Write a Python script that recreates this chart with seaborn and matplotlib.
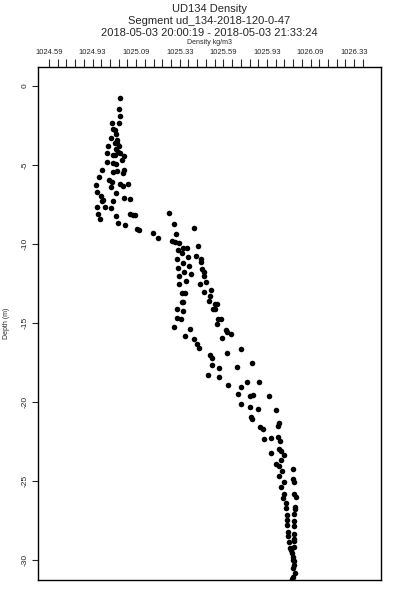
import numpy as np
import pandas as pd
import matplotlib
matplotlib.use("Agg")
import matplotlib.pyplot as plt
import seaborn as sns

# values
density = [
    1024.997, 1024.993, 1024.997, 1024.993, 1024.950, 1024.959, 1024.968, 1024.974, 1024.944, 1024.978,
    1024.982, 1024.968, 1024.930, 1024.993, 1024.974, 1024.987, 1024.921, 1024.959, 1024.968, 1024.997,
    1025.020, 1025.007, 1024.921, 1024.959, 1024.974, 1024.892, 1025.020, 1024.955, 1024.978, 1025.013,
    1024.878, 1024.936, 1024.950, 1024.997, 1025.013, 1025.041, 1024.860, 1024.944, 1024.864, 1024.974,
    1024.886, 1024.901, 1024.892, 1025.020, 1025.054, 1024.959, 1024.864, 1024.911, 1024.944, 1024.873,
    1024.974, 1025.054, 1025.073, 1025.083, 1024.882, 1024.987, 1025.026, 1025.096, 1025.108, 1025.185,
    1025.217, 1025.280, 1025.308, 1025.423, 1025.320, 1025.295, 1025.315, 1025.334, 1025.360, 1025.380,
    1025.442, 1025.330, 1025.351, 1025.385, 1025.433, 1025.460, 1025.460, 1025.326, 1025.360, 1025.394,
    1025.331, 1025.470, 1025.366, 1025.407, 1025.337, 1025.480, 1025.479, 1025.373, 1025.456, 1025.492,
    1025.334, 1025.479, 1025.519, 1025.352, 1025.370, 1025.513, 1025.351, 1025.360, 1025.510, 1025.542,
    1025.553, 1025.528, 1025.544, 1025.326, 1025.360, 1025.322, 1025.345, 1025.561, 1025.576, 1025.556,
    1025.309, 1025.399, 1025.604, 1025.609, 1025.634, 1025.369, 1025.423, 1025.580, 1025.437, 1025.449,
    1025.689, 1025.609, 1025.513, 1025.523, 1025.523, 1025.756, 1025.566, 1025.670, 1025.503, 1025.565,
    1025.728, 1025.796, 1025.614, 1025.693, 1025.676, 1025.745, 1025.758, 1025.853, 1025.691, 1025.743,
    1025.787, 1025.892, 1025.748, 1025.752, 1025.909, 1025.905, 1025.800, 1025.815, 1025.823, 1025.861,
    1025.901, 1025.915, 1025.909, 1025.920, 1025.939, 1025.863, 1025.919, 1025.892, 1025.909, 1025.928,
    1025.991, 1025.911, 1025.987, 1025.995, 1025.938, 1025.920, 1025.939, 1025.997, 1026.005, 1025.934,
    1025.947, 1025.947, 1026.001, 1026.001, 1025.953, 1025.995, 1025.956, 1025.956, 1025.995, 1025.997,
    1025.960, 1025.962, 1025.995, 1025.997, 1025.966, 1025.995, 1025.995, 1025.972, 1025.976, 1025.982,
    1025.987, 1025.987, 1025.997, 1025.997, 1025.991, 1026.001, 1025.991, 1025.982,
]
depth = [
    -0.78, -1.46, -1.90, -2.36, -2.32, -2.72, -2.78, -3.04, -3.29, -3.42,
    -3.59, -3.63, -3.80, -3.80, -4.01, -4.16, -4.24, -4.37, -4.37, -4.26,
    -4.43, -4.68, -4.79, -4.89, -4.94, -5.32, -5.32, -5.42, -5.38, -5.49,
    -5.78, -5.95, -6.06, -6.20, -6.33, -6.20, -6.27, -6.41, -6.69, -6.79,
    -6.96, -7.22, -7.26, -7.11, -7.15, -7.26, -7.68, -7.64, -7.74, -8.10,
    -8.23, -8.12, -8.15, -8.15, -8.44, -8.65, -8.80, -9.07, -9.11, -9.28,
    -9.65, -8.04, -8.73, -8.97, -9.37, -9.81, -9.89, -9.96, -10.23, -10.28,
    -10.11, -10.38, -10.60, -10.84, -10.74, -10.96, -11.12, -10.95, -11.20, -11.39,
    -11.49, -11.58, -11.75, -11.93, -12.01, -11.80, -12.03, -12.32, -12.52, -12.42,
    -12.55, -13.04, -12.91, -13.08, -13.08, -13.29, -13.65, -13.65, -13.59, -13.83,
    -13.83, -14.13, -14.13, -14.13, -14.24, -14.70, -14.78, -14.76, -14.76, -15.08,
    -15.23, -15.38, -15.44, -15.60, -15.72, -15.82, -16.00, -15.97, -16.36, -16.60,
    -16.66, -16.88, -17.03, -17.23, -17.67, -17.51, -17.87, -17.77, -18.30, -18.44,
    -18.71, -18.71, -18.92, -19.05, -19.51, -19.62, -19.56, -19.62, -20.14, -20.32,
    -20.43, -20.54, -20.97, -21.06, -21.35, -21.50, -21.60, -21.73, -22.34, -22.30,
    -22.23, -22.47, -22.97, -23.10, -23.35, -23.25, -23.67, -23.94, -24.03, -24.35,
    -24.24, -24.66, -24.89, -25.04, -25.04, -25.40, -25.82, -25.82, -26.03, -26.09,
    -26.41, -26.73, -26.66, -26.77, -27.15, -27.09, -27.47, -27.78, -27.55, -27.83,
    -28.21, -28.48, -28.37, -28.65, -28.88, -28.82, -29.16, -29.24, -29.37, -29.58,
    -29.79, -30.00, -30.04, -30.32, -30.53, -30.84, -31.06, -31.20,
]
x_ticks = [1024.59, 1024.84, 1025.09, 1025.34, 1025.59, 1025.84, 1026.09, 1026.34]
x_tick_labels = ["1024.59", "1024.93", "1025.09", "1025.33",
                 "1025.59", "1025.93", "1026.09", "1026.33"]
y_ticks = [0, -5, -10, -15, -20, -25, -30]

df = pd.DataFrame({"density": density, "depth": depth})

sns.set_style("ticks")
plt.rcParams['font.family'] = ['Liberation Sans', 'DejaVu Sans']

fig = plt.figure(figsize=(4, 6), dpi=100)
ax = fig.add_axes([0.095, 0.0333, 0.8575, 0.855])

sns.scatterplot(data=df, x="density", y="depth", ax=ax, color="black",
                s=16, marker="o", linewidth=0, legend=False)

ax.set_xlim(1024.527, 1026.494)
ax.set_ylim(-31.27, 1.2)

ax.xaxis.tick_top()
ax.set_xticks(x_ticks)
ax.set_xticklabels(x_tick_labels, fontsize=5.5)
ax.set_xticks(np.arange(1024.59, 1026.40, 0.05), minor=True)
ax.tick_params(axis="x", which="both", direction="out", length=5.5, width=0.8, pad=2.5)
ax.set_xlabel("")

ax.set_yticks(y_ticks)
ax.set_yticklabels([str(v) for v in y_ticks], rotation=90, va="center", fontsize=6)
ax.tick_params(axis="y", direction="out", length=4, width=0.8, pad=3)
ax.set_ylabel("Depth (m)", fontsize=5, labelpad=8)

for s in ax.spines.values():
    s.set_linewidth(1.0)
    s.set_color("black")

cx = 0.095 + 0.8575 / 2
fig.text(cx, 1 - 9 / 600, "UD134 Density", ha="center", va="center", fontsize=8)
fig.text(cx, 1 - 21 / 600, "Segment ud_134-2018-120-0-47", ha="center", va="center", fontsize=8)
fig.text(cx, 1 - 33 / 600, "2018-05-03 20:00:19 - 2018-05-03 21:33:24", ha="center", va="center", fontsize=8)
fig.text(cx, 1 - 42 / 600, "Density kg/m3", ha="center", va="center", fontsize=5)

fig.savefig("out.png", dpi=100)
